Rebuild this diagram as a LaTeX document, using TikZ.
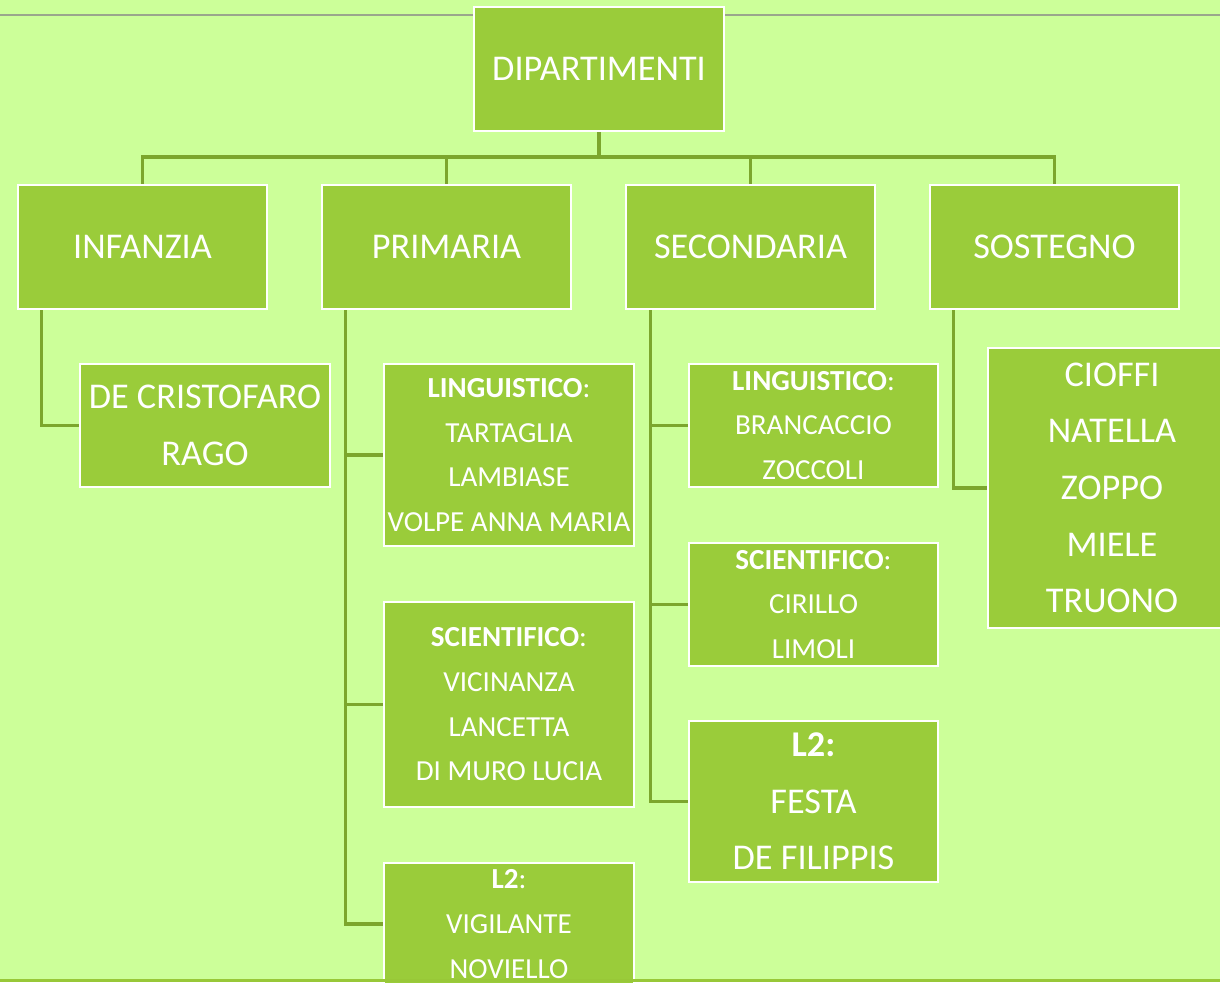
\documentclass[tikz,border=0pt]{standalone}
\usepackage{fontspec}
\setmainfont{Carlito}
\definecolor{bg}{HTML}{CCFF99}
\definecolor{boxfill}{HTML}{9ACC3A}
\definecolor{conn}{HTML}{7CA62D}
\definecolor{topline}{HTML}{9AA68C}
\definecolor{botline}{HTML}{98C838}
\newcommand{\bigf}{\fontsize{27.2pt}{42.5pt}\selectfont}
\newcommand{\smallf}{\fontsize{21.8pt}{33.5pt}\selectfont}
\tikzset{
  orgbox/.style={draw=white, line width=2pt, fill=boxfill, text=white,
    inner sep=0pt, align=center, anchor=center},
  bigtext/.style={font=\bigf},
  smalltext/.style={font=\smallf},
  link/.style={draw=conn, line width=2.5pt, line join=miter},
}
\begin{document}
\begin{tikzpicture}[x=0.75pt,y=-0.75pt]
\clip (0,0) rectangle (1220,982);
\fill[bg] (0,0) rectangle (1220,982);
\draw[topline, line width=1.5pt] (0,15) -- (1220,15);

% level 0
\node[orgbox, bigtext, minimum width=187.5pt, minimum height=93pt] (dip) at (599,69) {DIPARTIMENTI};
% level 1
\node[orgbox, bigtext, minimum width=186.75pt, minimum height=93pt] (inf) at (142.5,247) {INFANZIA};
\node[orgbox, bigtext, minimum width=186.75pt, minimum height=93pt] (pri) at (446.5,247) {PRIMARIA};
\node[orgbox, bigtext, minimum width=186.75pt, minimum height=93pt] (sec) at (750.5,247) {SECONDARIA};
\node[orgbox, bigtext, minimum width=186.75pt, minimum height=93pt] (sos) at (1054.5,247) {SOSTEGNO};

% level 2
\node[orgbox, bigtext, minimum width=187.5pt, minimum height=92.25pt] (cris) at (205,425.5) {DE CRISTOFARO\\RAGO};

\node[orgbox, smalltext, minimum width=187.5pt, minimum height=136.5pt] (pling) at (509,455) {\textbf{LINGUISTICO}:\\TARTAGLIA\\LAMBIASE\\VOLPE ANNA MARIA};
\node[orgbox, smalltext, minimum width=187.5pt, minimum height=153.75pt] (psci) at (509,704.5) {\textbf{SCIENTIFICO}:\\VICINANZA\\LANCETTA\\DI MURO LUCIA};
\node[orgbox, smalltext, minimum width=187.5pt, minimum height=91.5pt] (pl2) at (509,924) {\textbf{L2}:\\VIGILANTE\\NOVIELLO};

\node[orgbox, smalltext, minimum width=186.75pt, minimum height=92.25pt] (sling) at (813.5,425.5) {\textbf{LINGUISTICO}:\\BRANCACCIO\\ZOCCOLI};
\node[orgbox, smalltext, minimum width=186.75pt, minimum height=92.25pt] (ssci) at (813.5,604.5) {\textbf{SCIENTIFICO}:\\CIRILLO\\LIMOLI};
\node[orgbox, bigtext, minimum width=186.75pt, minimum height=120.75pt] (sl2) at (813.5,801.5) {\textbf{L2:}\\FESTA\\DE FILIPPIS};

\node[orgbox, bigtext, minimum width=186pt, minimum height=210pt] (sosc) at (1112,488) {CIOFFI\\NATELLA\\ZOPPO\\MIELE\\TRUONO};

% connectors level 0 -> 1
\coordinate (bus) at (599,157);
\draw[link] (dip.south) -- (bus);
\draw[link] (inf.north) |- (bus) -| (sos.north);
\draw[link] (pri.north) -- (pri.north |- bus);
\draw[link] (sec.north) -- (sec.north |- bus);

% connectors level 1 -> 2
\draw[link] ([xshift=18.75pt]inf.south west) |- (cris.west);

\draw[link] ([xshift=18.75pt]pri.south west) |- (pl2.west);
\draw[link] (pling.west) -- ++(-27.75pt,0);
\draw[link] (psci.west) -- ++(-27.75pt,0);

\draw[link] ([xshift=19.5pt]sec.south west) |- (sl2.west);
\draw[link] (sling.west) -- ++(-27.75pt,0);
\draw[link] (ssci.west) -- ++(-27.75pt,0);

\draw[link] ([xshift=18.75pt]sos.south west) |- (sosc.west);

\draw[botline, line width=2.4pt] (0,980.5) -- (1220,980.5);
\end{tikzpicture}
\end{document}
